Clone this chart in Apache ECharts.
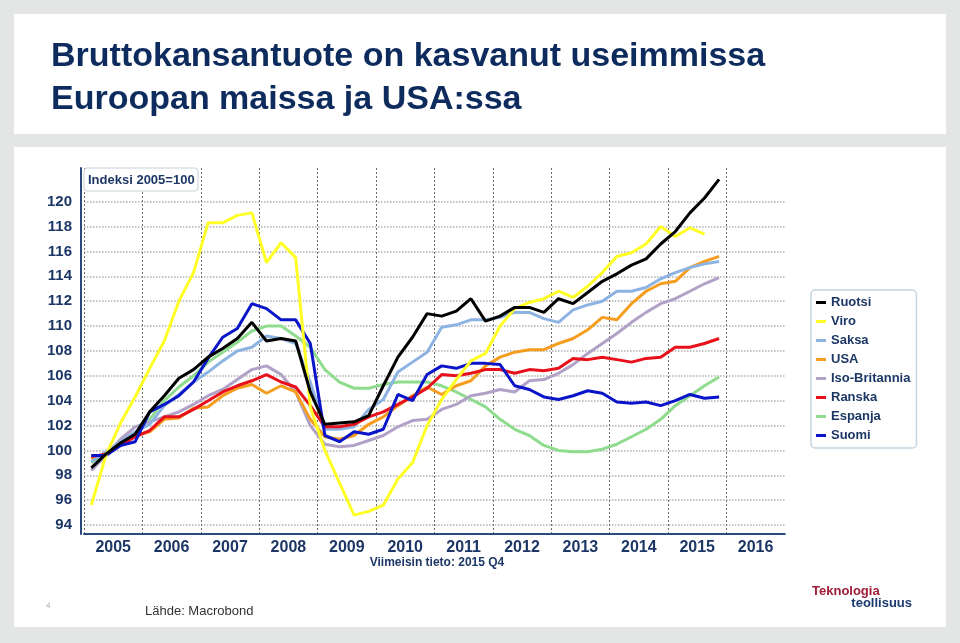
<!DOCTYPE html>
<html>
<head>
<meta charset="utf-8">
<script src="https://cdn.jsdelivr.net/npm/echarts@6/dist/echarts.min.js"></script>
<style>
html,body{margin:0;padding:0;background:#e3e6e5;}
#c{width:960px;height:643px;}
</style>
</head>
<body>
<div id="c"></div>
<script>
// ---- data (quarterly, 2005 Q1 ... 2015 Q4), index 2005 = 100 ----
const years = ['2005','2006','2007','2008','2009','2010','2011','2012','2013','2014','2015','2016'];
const yTicks = [94,96,98,100,102,104,106,108,110,112,114,116,118,120];
const seriesNames = ['Ruotsi','Viro','Saksa','USA','Iso-Britannia','Ranska','Espanja','Suomi'];

const ruotsi = [98.6,99.7,100.6,101.3,103.1,104.4,105.8,106.5,107.5,108.2,
  109.0,110.3,108.8,109.0,108.8,104.7,102.1,102.2,102.3,102.8,
  105.2,107.5,109.1,111.0,110.8,111.2,112.2,110.4,110.8,111.5,
  111.5,111.1,112.2,111.8,112.7,113.6,114.2,114.9,115.4,116.6,
  117.6,119.1,120.3,121.8];
const viro = [95.6,99.6,102.2,104.3,106.6,108.8,112.0,114.3,118.3,118.3,
  118.9,119.1,115.1,116.7,115.5,103.5,100.0,97.4,94.8,95.1,
  95.6,97.7,99.0,102.0,104.1,105.7,107.2,107.8,110.0,111.4,
  111.9,112.2,112.8,112.3,113.2,114.3,115.6,115.9,116.6,118.0,
  117.2,117.9,117.4];
const saksa = [99.1,99.9,100.7,101.5,102.1,103.6,104.5,105.5,106.3,107.2,
  108.0,108.3,109.2,109.0,108.6,105.5,101.7,101.7,101.9,103.3,
  104.1,106.3,107.1,107.9,109.9,110.1,110.5,110.5,110.7,111.1,
  111.1,110.6,110.3,111.3,111.7,112.0,112.8,112.8,113.1,113.8,
  114.3,114.7,115.0,115.2];
const usa = [99.3,99.8,100.5,101.2,101.5,102.5,102.6,103.4,103.5,104.4,
  105.0,105.3,104.6,105.2,104.7,102.5,101.1,100.9,101.2,102.1,
  102.7,103.6,104.4,105.1,104.5,105.2,105.6,106.8,107.5,107.9,
  108.1,108.1,108.6,109.0,109.7,110.7,110.5,111.8,112.8,113.4,
  113.6,114.7,115.2,115.6];
const isoBritannia = [98.4,99.6,100.9,101.9,102.3,102.7,103.1,103.7,104.4,104.9,
  105.7,106.5,106.8,106.1,104.7,102.0,100.5,100.3,100.4,100.8,
  101.2,101.9,102.4,102.5,103.3,103.7,104.4,104.6,104.9,104.7,
  105.6,105.7,106.2,106.9,107.8,108.6,109.4,110.3,111.1,111.8,
  112.2,112.8,113.4,113.9];
const ranska = [99.5,99.7,100.4,101.1,101.6,102.7,102.7,103.3,104.0,104.7,
  105.2,105.6,106.1,105.5,105.1,103.6,101.9,101.9,102.1,102.7,
  103.1,103.7,104.3,105.0,106.1,106.0,106.2,106.5,106.5,106.2,
  106.5,106.4,106.6,107.4,107.3,107.5,107.3,107.1,107.4,107.5,
  108.3,108.3,108.6,109.0];
const espanja = [99.0,99.8,100.7,101.4,102.5,104.0,105.1,106.0,107.1,107.9,
  108.7,109.6,110.0,110.0,109.2,108.3,106.5,105.5,105.0,105.0,
  105.3,105.5,105.5,105.5,105.2,104.7,104.1,103.5,102.5,101.7,
  101.2,100.4,100.0,99.9,99.9,100.1,100.5,101.1,101.7,102.5,
  103.6,104.4,105.2,105.9];
const suomi = [99.6,99.6,100.4,100.7,103.1,103.7,104.4,105.5,107.4,109.1,
  109.8,111.8,111.4,110.5,110.5,108.6,101.2,100.7,101.5,101.3,
  101.7,104.5,104.0,106.1,106.8,106.6,107.0,107.0,106.9,105.2,
  104.9,104.3,104.1,104.4,104.8,104.6,103.9,103.8,103.9,103.6,
  104.0,104.5,104.2,104.3];

// quarterly category list built from the year list
const quarters = [];
years.forEach(y => { for (let q = 1; q <= 4; q++) quarters.push(y + ' Q' + q); });

const NAVY = '#1c3766';
const FONT = '"Liberation Sans", Arial, sans-serif';
const colors = {
  'Ruotsi':'#000000','Viro':'#ffff26','Saksa':'#8db3e2','USA':'#f59d1e',
  'Iso-Britannia':'#b2a1c7','Ranska':'#e8101a','Espanja':'#8fdc8f','Suomi':'#0a14c8'
};
const dataMap = {
  'Ruotsi':ruotsi,'Viro':viro,'Saksa':saksa,'USA':usa,
  'Iso-Britannia':isoBritannia,'Ranska':ranska,'Espanja':espanja,'Suomi':suomi
};
// drawing order (bottom -> top)
const drawOrder = ['Espanja','Iso-Britannia','USA','Saksa','Ranska','Suomi','Viro','Ruotsi'];

// vertical split lines: one per year boundary, none at right edge
const vSplitColors = years.map(() => '#6e6e6e').concat(['rgba(0,0,0,0)']);

const chart = echarts.init(document.getElementById('c'), null, {renderer:'canvas'});
chart.setOption({
  animation:false,
  backgroundColor:'#e3e6e5',
  title:{
    text:'Bruttokansantuote on kasvanut useimmissa\nEuroopan maissa ja USA:ssa',
    left:46, top:30,
    textStyle:{fontFamily:FONT, fontSize:34, fontWeight:'bold', color:'#0e2b5e', lineHeight:43}
  },
  grid:{left:84, right:175.2, top:168, bottom:109, containLabel:false},
  legend:{
    data:seriesNames,
    orient:'vertical',
    left:811, top:290,
    padding:[5,6,5,5],
    itemGap:4,
    itemWidth:10, itemHeight:3,
    icon:'rect',
    borderColor:'#c3d5de', borderWidth:1.5, borderRadius:4,
    backgroundColor:'#ffffff',
    textStyle:{fontFamily:FONT, fontSize:13, fontWeight:'bold', color:NAVY, lineHeight:15}
  },
  xAxis:[
    {
      type:'category', data:quarters, boundaryGap:true,
      axisLine:{show:true, lineStyle:{color:'#2a4a7e', width:2}},
      axisTick:{show:false},
      axisLabel:{show:false},
      splitLine:{show:true, interval:(i)=> i % 4 === 0,
        lineStyle:{color:vSplitColors, type:[2,2], width:1}}
    },
    {
      type:'category', data:years, boundaryGap:true, position:'bottom',
      axisLine:{show:false}, axisTick:{show:false}, splitLine:{show:false},
      axisLabel:{fontFamily:FONT, fontSize:16, fontWeight:'bold', color:NAVY, margin:6}
    }
  ],
  yAxis:{
    type:'value', min:93.28, max:122.71, offset:3,
    axisLine:{show:true, lineStyle:{color:'#2a4a7e', width:2}},
    axisTick:{show:false, customValues:yTicks},
    axisLabel:{customValues:yTicks, fontFamily:FONT, fontSize:15, fontWeight:'bold', color:NAVY, margin:9},
    splitLine:{show:true, lineStyle:{color:'#b0b0b0', type:'dotted', width:1.5}}
  },
  series: drawOrder.map(name => ({
    name:name, type:'line', data:dataMap[name],
    xAxisIndex:0, yAxisIndex:0,
    symbol:'none', smooth:false,
    lineStyle:{width:3, color:colors[name]},
    itemStyle:{color:colors[name]}
  })),
  graphic:[
    {type:'rect', z:-10, silent:true, shape:{x:14, y:14, width:932, height:120}, style:{fill:'#ffffff'}},
    {type:'rect', z:-10, silent:true, shape:{x:14, y:147, width:932, height:480}, style:{fill:'#ffffff'}},
    {type:'rect', z:50, silent:true, shape:{x:84, y:168, width:114, height:23, r:3}, style:{fill:'#ffffff', stroke:'#c8d2d8', lineWidth:1}},
    {type:'text', z:51, silent:true, x:88, y:180, style:{text:'Indeksi 2005=100', font:'bold 13px ' + FONT, fill:NAVY, verticalAlign:'middle'}},
    {type:'text', z:51, silent:true, x:437, y:563, style:{text:'Viimeisin tieto: 2015 Q4', font:'bold 12px ' + FONT, fill:NAVY, align:'center', verticalAlign:'middle'}},
    {type:'text', z:51, silent:true, x:145, y:611, style:{text:'Lähde: Macrobond', font:'13px ' + FONT, fill:'#333333', verticalAlign:'middle'}},
    {type:'text', z:51, silent:true, x:46, y:606, style:{text:'4', font:'8px ' + FONT, fill:'#aaaaaa', verticalAlign:'middle'}},
    {type:'text', z:51, silent:true, x:812, y:591, style:{text:'Teknologia', font:'bold 13px ' + FONT, fill:'#9d1c36', verticalAlign:'middle'}},
    {type:'text', z:51, silent:true, x:912, y:603, style:{text:'teollisuus', font:'bold 13px ' + FONT, fill:'#1a3a6e', align:'right', verticalAlign:'middle'}}
  ]
});
</script>
</body>
</html>
